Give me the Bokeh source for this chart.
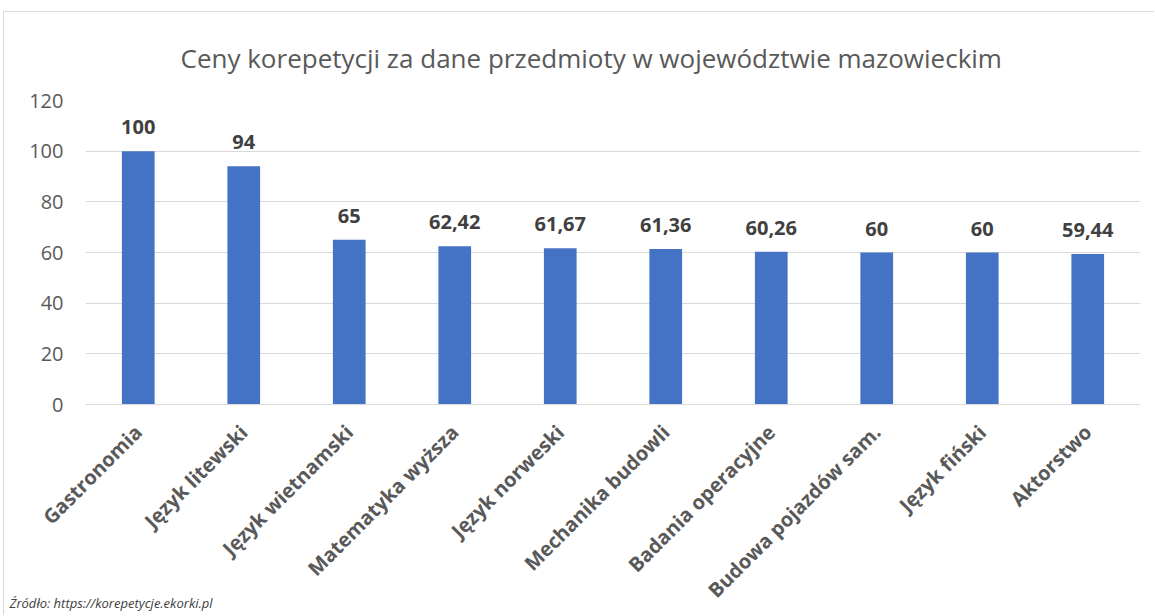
import math
from bokeh.plotting import figure
from bokeh.models import ColumnDataSource, FactorRange, Range1d, FixedTicker, Title
from bokeh.core.properties import value
from bokeh.embed import file_html
from bokeh.resources import INLINE

categories = ["Gastronomia", "Język litewski", "Język wietnamski", "Matematyka wyższa",
              "Język norweski", "Mechanika budowli", "Badania operacyjne",
              "Budowa pojazdów sam.", "Język fiński", "Aktorstwo"]
prices = [100, 94, 65, 62.42, 61.67, 61.36, 60.26, 60, 60, 59.44]
y_ticks = [0, 20, 40, 60, 80, 100, 120]
title_text = "Ceny korepetycji za dane przedmioty w województwie mazowieckim"
source_text = "Źródło: https://korepetycje.ekorki.pl"


def fmt(v):
    s = ("%.2f" % v).rstrip("0").rstrip(".")
    return s.replace(".", ",")


labels = [fmt(v) for v in prices]
src = ColumnDataSource(dict(cat=categories, val=prices, lab=labels))

FONT = "Open Sans"
p = figure(x_range=FactorRange(*categories, range_padding=0), y_range=Range1d(0, 120),
           width=1151, height=604, output_backend="svg", toolbar_location=None,
           min_border_left=81, min_border_right=15, min_border_top=88, min_border_bottom=212)
p.x_range.factor_padding = 0
p.outline_line_color = None
p.styles = {"margin-left": "3px", "margin-top": "11px",
            "border-top": "1px solid #d9d9d9", "border-left": "1px solid #d9d9d9"}

p.title.text = title_text
p.title.align = "left"
p.title.offset = 95
p.title.standoff = 49
p.title.text_font = FONT
p.title.text_font_size = "26px"
p.title.text_font_style = "normal"
p.title.text_color = "#595959"

p.vbar(x="cat", top="val", width=0.31, source=src, fill_color="#4472C4", line_color=None)
p.text(x="cat", y="val", text="lab", source=src, text_align="center", text_baseline="alphabetic",
       y_offset=-24, text_font=value(FONT), text_font_size="20px", text_font_style="bold",
       text_color="#404040")

p.xgrid.grid_line_color = None
p.ygrid.grid_line_color = "#d9d9d9"
p.ygrid.grid_line_width = 1

p.yaxis.ticker = FixedTicker(ticks=y_ticks)
p.yaxis.axis_line_color = None
p.yaxis.major_tick_line_color = None
p.yaxis.major_tick_out = 0
p.yaxis.minor_tick_line_color = None
p.yaxis.major_label_standoff = 22
p.yaxis.major_label_text_font = FONT
p.yaxis.major_label_text_font_size = "20px"
p.yaxis.major_label_text_color = "#595959"

p.xaxis.axis_line_color = "#d9d9d9"
p.xaxis.major_tick_line_color = None
p.xaxis.major_tick_out = 0
p.xaxis.major_label_orientation = math.pi / 4
p.xaxis.major_label_standoff = 24
p.xaxis.major_label_text_font = FONT
p.xaxis.major_label_text_font_size = "20px"
p.xaxis.major_label_text_font_style = "bold"
p.xaxis.major_label_text_color = "#595959"

p.add_layout(Title(text=source_text, align="left", offset=-76, standoff=-44, vertical_align="top",
                   text_font=FONT, text_font_size="13px", text_font_style="italic",
                   text_color="#404040"), "below")

open("out.html", "w").write(file_html(p, INLINE))
